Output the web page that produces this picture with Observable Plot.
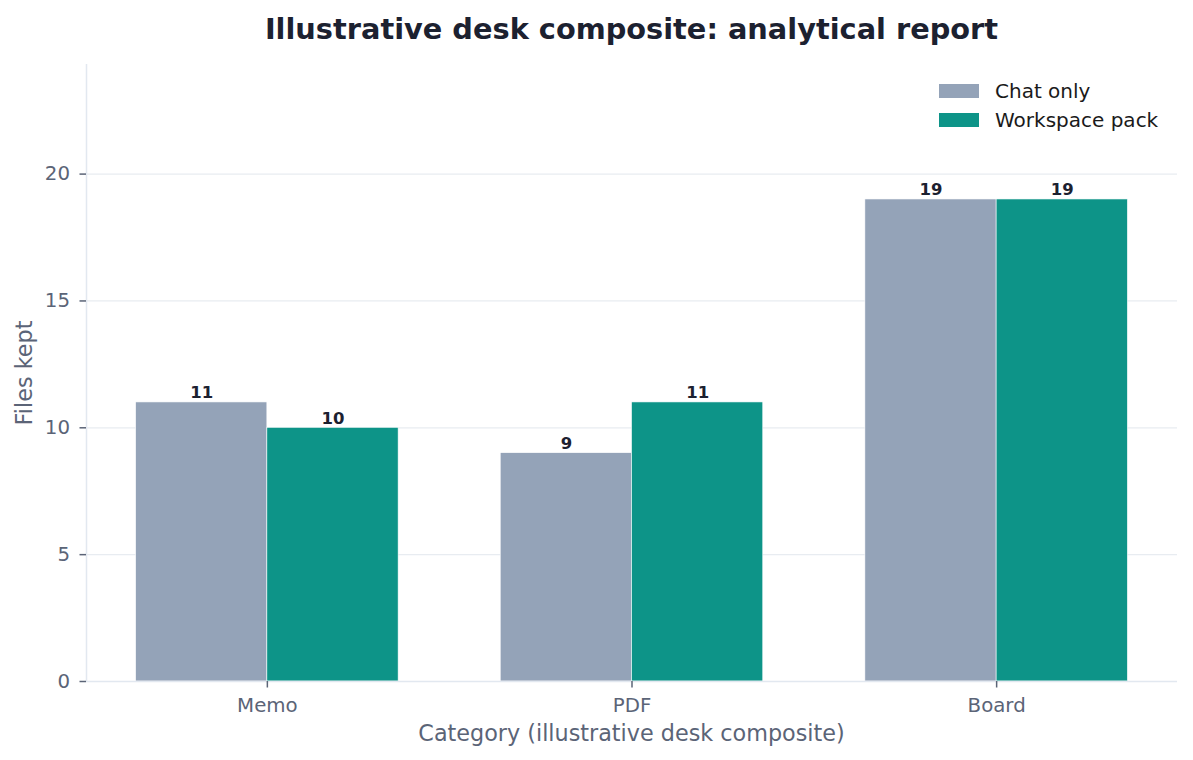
<!DOCTYPE html>
<html><head><meta charset="utf-8">
<script src="https://cdn.jsdelivr.net/npm/d3@7"></script>
<script src="https://cdn.jsdelivr.net/npm/@observablehq/plot@0.6"></script>
<style>
body{margin:0;background:#fff;font-family:"DejaVu Sans",sans-serif;}
#wrap{position:relative;width:1193px;height:760px;overflow:hidden;}
#title{height:58px;line-height:58px;padding-left:86px;padding-right:16px;box-sizing:border-box;text-align:center;font-weight:bold;font-size:28.8px;color:#1c2130;white-space:nowrap;}
#legend{position:absolute;left:939px;top:76.5px;font-size:20px;color:#1a1a1a;z-index:2;}
.row{display:flex;align-items:center;height:29px;white-space:nowrap;}
.sw{width:40px;height:14px;margin-right:16px;flex:none;}
.axlabel{position:absolute;font-size:22.3px;color:#5b6477;white-space:nowrap;transform:translate(-50%,-50%);}
#ylabel{transform:translate(-50%,-50%) rotate(-90deg);}
</style></head><body>
<div id="wrap">
  <div id="title"></div>
  <div id="chart"></div>
  <div id="legend"></div>
  <div id="xlabel" class="axlabel"></div>
  <div id="ylabel" class="axlabel"></div>
</div>
<script>
// ---- data ----
const titleText = "Illustrative desk composite: analytical report";
const xLabelText = "Category (illustrative desk composite)";
const yLabelText = "Files kept";
const categories = ["Memo", "PDF", "Board"];
const seriesNames = ["Chat only", "Workspace pack"];
const chatOnly = [11, 9, 19];
const workspacePack = [10, 11, 19];
const yTicks = [0, 5, 10, 15, 20];

// ---- styles ----
const seriesColors = ["#94a3b8", "#0d9488"];
const barWidth = 0.36;
const tickColor = "#5b6477";
const inkColor = "#1c2130";
const spineColor = "#e2e8f0";
const gridColor = "#e8ecf1";

const seriesValues = [chatOnly, workspacePack];
const rows = [];
categories.forEach((c, i) => {
  seriesNames.forEach((s, j) => {
    const x1 = i + (j - 1) * barWidth;
    rows.push({category: c, index: i, series: s, value: seriesValues[j][i], x1, x2: x1 + barWidth});
  });
});
const n = categories.length;
const span = (n - 1) + 2 * barWidth;
const xDomain = [-barWidth - 0.05 * span, (n - 1) + barWidth + 0.05 * span];
const yMax = d3.max(rows, d => d.value) * 1.28;

const chart = Plot.plot({
  width: 1193,
  height: 702,
  marginTop: 6,
  marginBottom: 79,
  marginLeft: 86,
  marginRight: 16,
  style: {fontFamily: "DejaVu Sans", background: "#fff", overflow: "visible"},
  x: {type: "linear", domain: xDomain, axis: null},
  y: {domain: [0, yMax], axis: null},
  color: {domain: seriesNames, range: seriesColors},
  marks: [
    Plot.gridY(yTicks.filter(t => t > 0), {stroke: gridColor, strokeOpacity: 1, strokeWidth: 1.3}),
    Plot.rectY(rows, {x1: "x1", x2: "x2", y1: 0, y2: "value", fill: "series", stroke: "#fff", strokeWidth: 0.6}),
    Plot.ruleY([0], {stroke: spineColor, strokeWidth: 1.5}),
    Plot.ruleX([xDomain[0]], {stroke: spineColor, strokeWidth: 1.5}),
    Plot.text(rows, {x: d => (d.x1 + d.x2) / 2, y: "value", text: d => String(d.value), dy: -4, lineAnchor: "bottom", fontWeight: "bold", fontSize: 16.5, fill: inkColor}),
    Plot.axisY(yTicks, {tickSize: 6.5, tickPadding: 10, fontSize: 19.8, stroke: tickColor, fill: tickColor, strokeWidth: 1.5, label: null}),
    Plot.axisX(categories.map((c, i) => i), {tickFormat: i => categories[i], tickSize: 6.5, tickPadding: 10, fontSize: 19.8, stroke: tickColor, fill: tickColor, strokeWidth: 1.5, label: null})
  ]
});
document.getElementById("chart").appendChild(chart);
document.getElementById("title").textContent = titleText;

const legend = document.getElementById("legend");
seriesNames.forEach((s, j) => {
  const row = document.createElement("div");
  row.className = "row";
  const sw = document.createElement("div");
  sw.className = "sw";
  sw.style.background = seriesColors[j];
  const t = document.createElement("span");
  t.textContent = s;
  row.appendChild(sw); row.appendChild(t);
  legend.appendChild(row);
});

const xl = document.getElementById("xlabel");
xl.textContent = xLabelText;
xl.style.left = "631.5px"; xl.style.top = "732.5px";
const yl = document.getElementById("ylabel");
yl.textContent = yLabelText;
yl.style.left = "24px"; yl.style.top = "372.5px";
</script>
</body></html>
